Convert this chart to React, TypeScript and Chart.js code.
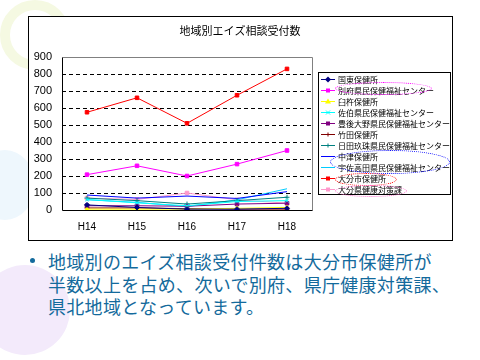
import React, { useEffect, useRef } from 'react';
import { Chart, registerables } from 'chart.js';

Chart.register(...registerables);

const categories = ['H14', 'H15', 'H16', 'H17', 'H18'];
const yTicks = [0, 100, 200, 300, 400, 500, 600, 700, 800, 900];
const chartTitle = '地域別エイズ相談受付数';

const seriesNames = [
  '国東保健所',
  '別府県民保健福祉センター',
  '臼杵保健所',
  '佐伯県民保健福祉センター',
  '豊後大野県民保健福祉センター',
  '竹田保健所',
  '日田玖珠県民保健福祉センター',
  '中津保健所',
  '宇佐高田県民保健福祉センター',
  '大分市保健所',
  '大分県健康対策課',
];

const kunisaki = [30, 15, 5, 5, 10];
const beppu = [208, 260, 200, 270, 350];
const usuki = [5, 5, 5, 10, 15];
const saiki = [62, 42, 25, 50, 55];
const bungoOno = [25, 25, 22, 35, 40];
const taketa = [12, 12, 8, 5, 5];
const hitaKusu = [70, 55, 35, 55, 75];
const nakatsu = [88, 70, 82, 68, 108];
const usaTakada = [60, 45, 20, 60, 125];
const oitaCity = [575, 660, 510, 675, 830];
const kenkoTaisaku = [70, 62, 100, 60, 40];

const seriesValues = [
  kunisaki, beppu, usuki, saiki, bungoOno, taketa,
  hitaKusu, nakatsu, usaTakada, oitaCity, kenkoTaisaku,
];

const seriesColors = [
  '#000080', '#ff00ff', '#ffff00', '#00ffff', '#800080', '#800000',
  '#008080', '#0000ff', '#00ccff', '#ff0000', '#ff99cc',
];

const seriesMarkers: (string | false)[] = [
  'rectRot', 'rect', 'triangle', 'crossRot', 'rect', 'cross',
  'cross', false, false, 'rect', 'rect',
];

const bulletText = [
  '地域別のエイズ相談受付件数は大分市保健所が',
  '半数以上を占め、次いで別府、県庁健康対策課、',
  '県北地域となっています。',
];

function drawMarker(ctx: CanvasRenderingContext2D, style: string | false, x: number, y: number, r: number, color: string) {
  if (!style) return;
  ctx.save();
  ctx.fillStyle = color;
  ctx.strokeStyle = color;
  ctx.lineWidth = 1;
  ctx.beginPath();
  if (style === 'rect') {
    ctx.fillRect(x - r, y - r, 2 * r, 2 * r);
  } else if (style === 'rectRot') {
    ctx.moveTo(x, y - r - 1);
    ctx.lineTo(x + r + 1, y);
    ctx.lineTo(x, y + r + 1);
    ctx.lineTo(x - r - 1, y);
    ctx.closePath();
    ctx.fill();
  } else if (style === 'triangle') {
    ctx.moveTo(x, y - r - 1);
    ctx.lineTo(x + r + 1, y + r);
    ctx.lineTo(x - r - 1, y + r);
    ctx.closePath();
    ctx.fill();
  } else if (style === 'crossRot') {
    ctx.moveTo(x - r, y - r);
    ctx.lineTo(x + r, y + r);
    ctx.moveTo(x + r, y - r);
    ctx.lineTo(x - r, y + r);
    ctx.stroke();
  } else if (style === 'cross') {
    ctx.moveTo(x - r, y);
    ctx.lineTo(x + r, y);
    ctx.moveTo(x, y - r);
    ctx.lineTo(x, y + r);
    ctx.stroke();
  }
  ctx.restore();
}

const framePlugin = {
  id: 'excelFrame',
  beforeDatasetsDraw(chart: any) {
    const { ctx, chartArea: a } = chart;
    ctx.save();
    ctx.lineWidth = 1;
    ctx.strokeStyle = '#808080';
    ctx.beginPath();
    ctx.moveTo(Math.round(a.left) + 0.5, Math.round(a.top) + 0.5);
    ctx.lineTo(Math.round(a.right) + 0.5, Math.round(a.top) + 0.5);
    ctx.lineTo(Math.round(a.right) + 0.5, Math.round(a.bottom) + 0.5);
    ctx.stroke();
    ctx.strokeStyle = '#000000';
    ctx.beginPath();
    ctx.moveTo(Math.round(a.left) + 0.5, Math.round(a.top) + 0.5);
    ctx.lineTo(Math.round(a.left) + 0.5, Math.round(a.bottom) + 0.5);
    ctx.lineTo(Math.round(a.right) + 0.5, Math.round(a.bottom) + 0.5);
    ctx.stroke();
    ctx.restore();
  },
  afterDraw(chart: any) {
    const { ctx } = chart;
    ctx.save();
    ctx.fillStyle = '#000';
    ctx.font = '11px "Noto Sans CJK JP"';
    ctx.textAlign = 'center';
    ctx.textBaseline = 'middle';
    ctx.fillText(chartTitle, 211, 14);
    const lx = 289, ly = 55, lw = 132, lh = 122;
    ctx.fillStyle = '#fff';
    ctx.fillRect(lx, ly, lw, lh);
    ctx.strokeStyle = '#000';
    ctx.lineWidth = 1;
    ctx.strokeRect(lx + 0.5, ly + 0.5, lw, lh);
    ctx.font = '8px "Noto Sans CJK JP"';
    ctx.textAlign = 'left';
    ctx.textBaseline = 'middle';
    chart.data.datasets.forEach((ds: any, i: number) => {
      const y = Math.round(61.7 + i * 11.06) + 0.5;
      ctx.strokeStyle = ds.borderColor;
      ctx.lineWidth = 1;
      ctx.beginPath();
      ctx.moveTo(292, y);
      ctx.lineTo(306, y);
      ctx.stroke();
      drawMarker(ctx, ds.pointStyle, 299, y, 2, ds.borderColor);
      ctx.fillStyle = '#000';
      ctx.fillText(ds.label, 309, y);
    });
    ctx.restore();
  },
};

function ChartBox() {
  const ref = useRef<HTMLCanvasElement | null>(null);
  useEffect(() => {
    if (!ref.current) return;
    const chart = new Chart(ref.current, {
      type: 'line',
      data: {
        labels: categories,
        datasets: seriesNames.map((name, i) => ({
          label: name,
          data: seriesValues[i],
          borderColor: seriesColors[i],
          backgroundColor: seriesColors[i],
          pointBackgroundColor: seriesColors[i],
          pointBorderColor: seriesColors[i],
          borderWidth: 1,
          pointStyle: seriesMarkers[i] as any,
          pointRadius: seriesMarkers[i] ? 2.5 : 0,
          pointBorderWidth: 1,
          tension: 0,
          fill: false,
        })),
      },
      options: {
        animation: false,
        responsive: false,
        maintainAspectRatio: false,
        layout: { padding: { left: 0, right: 140, top: 40, bottom: 0 } },
        plugins: {
          legend: { display: false },
          title: { display: false },
          tooltip: { enabled: false },
        },
        scales: {
          x: {
            offset: true,
            grid: { display: false, drawTicks: false },
            border: { display: false },
            ticks: {
              color: '#000',
              padding: 11,
              font: { family: '"Liberation Sans"', size: 10 },
            },
            afterFit: (s: any) => { s.height = 30; },
          },
          y: {
            min: 0,
            max: 900,
            afterBuildTicks: (s: any) => { s.ticks = yTicks.map((v) => ({ value: v })); },
            grid: {
              drawTicks: false,
              lineWidth: 1,
              color: (c: any) => (c.tick && (c.tick.value === 0 || c.tick.value === 900) ? 'rgba(0,0,0,0)' : '#000'),
            },
            border: { display: false, dash: [4, 3] },
            ticks: {
              color: '#000',
              padding: 10,
              font: { family: '"Liberation Sans"', size: 11 },
            },
            afterFit: (s: any) => { s.width = 33; },
          },
        },
      },
      plugins: [framePlugin],
    });
    return () => chart.destroy();
  }, []);
  return <canvas ref={ref} width={423} height={223} style={{ display: 'block', width: 423, height: 223 }} />;
}

const ellipse = (left: number, top: number, w: number, h: number, color: string): React.CSSProperties => ({
  position: 'absolute', left, top, width: w, height: h,
  border: `1px dotted ${color}`, borderRadius: '50%', pointerEvents: 'none',
});

export default function App() {
  return (
    <div style={{ position: 'absolute', left: 0, top: 0, width: 480, height: 360, background: '#fff', overflow: 'hidden' }}>
      <div style={{ position: 'absolute', left: -20, top: 265, width: 90, height: 90, borderRadius: '50%', background: '#f3eafb' }} />
      <div style={{ position: 'absolute', left: -25, top: 150, width: 60, height: 70, borderRadius: '50%', background: '#eef7fd' }} />
      <div style={{ position: 'absolute', left: 0, top: 0, width: 70, height: 70, borderRadius: '50%', border: '10px solid #f5f9e2', boxSizing: 'border-box' }} />
      <div style={{ position: 'absolute', left: 28, top: 16, border: '1px solid #000', background: '#fff' }}>
        <ChartBox />
      </div>
      <div style={ellipse(335, 82, 95, 11, '#ff00ff')} />
      <div style={ellipse(330, 150, 118, 22, '#0000ff')} />
      <div style={ellipse(335, 173, 60, 11, '#ff0000')} />
      <div style={ellipse(335, 185, 70, 10, '#ff66cc')} />
      <div style={{ position: 'absolute', left: 30, top: 258, width: 5, height: 5, borderRadius: '50%', background: '#136a9c' }} />
      <div style={{
        position: 'absolute', left: 48, top: 250, whiteSpace: 'nowrap',
        fontFamily: '"Noto Sans CJK JP"', fontSize: 18, lineHeight: '22.5px',
        letterSpacing: '0.3px', color: '#136a9c',
      }}>
        {bulletText.map((t, i) => (<div key={i}>{t}</div>))}
      </div>
    </div>
  );
}
